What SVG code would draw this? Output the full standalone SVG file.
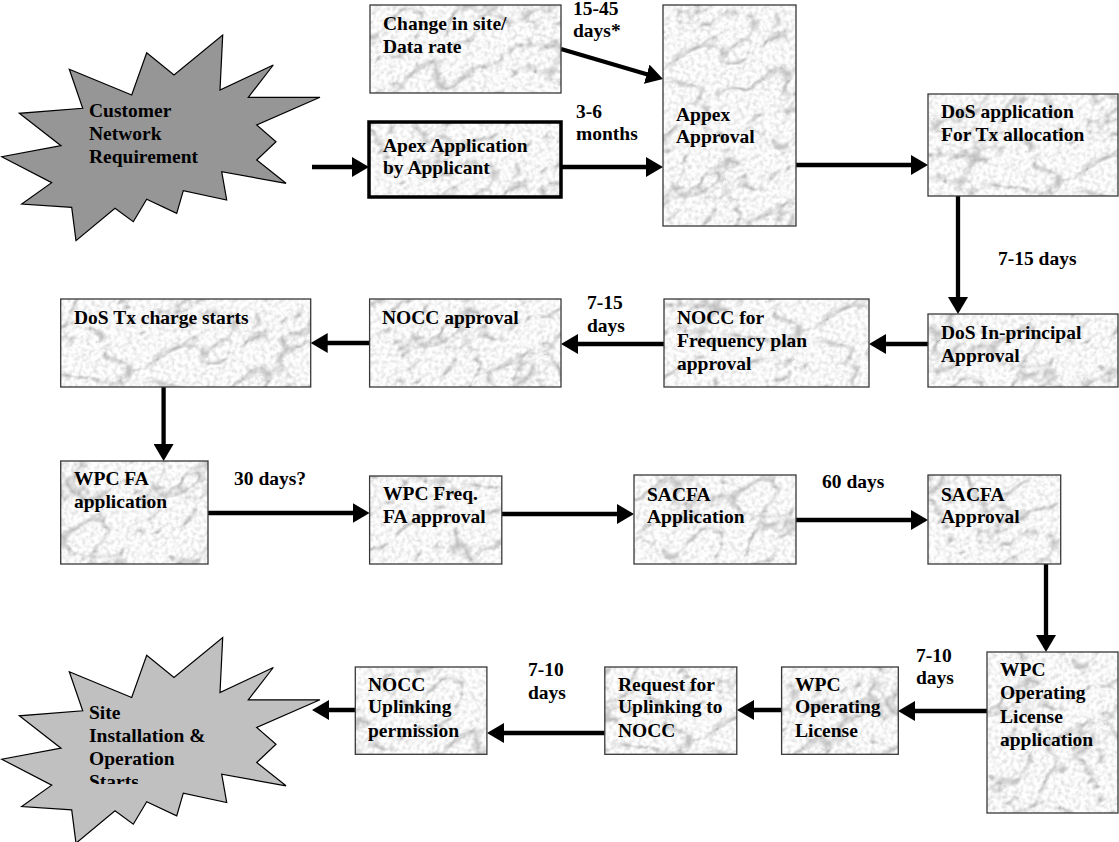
<svg xmlns="http://www.w3.org/2000/svg" width="1119" height="842" viewBox="0 0 1119 842">
<style>
.box{fill:url(#marble);stroke:#383838;stroke-width:1.3}
.thick{stroke:#000;stroke-width:3.5}
.t{font-family:"Liberation Serif","Times New Roman",serif;font-weight:bold;font-size:19.5px;fill:#000}
.conn{stroke:#000;stroke-width:4.3;fill:none;marker-end:url(#ah)}
.star{stroke:#000;stroke-width:1.2}
</style>
<defs>
<filter id="marbleF" x="0" y="0" width="1" height="1" color-interpolation-filters="sRGB">
<feTurbulence type="turbulence" baseFrequency="0.022 0.032" numOctaves="3" seed="5" stitchTiles="stitch" result="v"/>
<feColorMatrix in="v" type="matrix" values="1.2 0 0 0 0.74  1.2 0 0 0 0.74  1.2 0 0 0 0.74  0 0 0 0 1" result="veins"/>
<feTurbulence type="fractalNoise" baseFrequency="0.25" numOctaves="2" seed="2" stitchTiles="stitch" result="n"/>
<feColorMatrix in="n" type="matrix" values="0 0 0 0 0.55  0 0 0 0 0.55  0 0 0 0 0.55  0.7 0 0 0 -0.28" result="speck"/>
<feMerge><feMergeNode in="veins"/><feMergeNode in="speck"/></feMerge>
</filter>
<pattern id="marble" patternUnits="userSpaceOnUse" width="300" height="300" patternTransform="rotate(-30)">
<rect width="300" height="300" fill="#fff" filter="url(#marbleF)"/>
</pattern>
<marker id="ah" markerUnits="userSpaceOnUse" markerWidth="18" markerHeight="20" refX="8" refY="10" orient="auto">
<path d="M0,0 L17,10 L0,20 z" fill="#000"/>
</marker>
<polygon id="burst" points="69.3,69.3 131.7,95 146.7,52.7 174,75 222.7,35 220,90 273.3,65 248.3,97.3 320,97.3 256.7,125 276,141.7 256.7,160 286,183.3 221.7,171.7 226.7,200 183.3,190.7 176.7,213.3 146.7,199.3 133.3,221.7 115,208.3 76,240.7 71.7,207.3 21.7,204 51.7,182.7 1.7,156.7 61,145.7 19.3,113.3 82.7,108.3"/>
<clipPath id="clipStarts"><rect x="0" y="600" width="330" height="184"/></clipPath>
</defs>

<g id="connectors">
<path class="conn" d="M312,167 H360"/>
<path class="conn" d="M561,49 L654.4,76.5"/>
<path class="conn" d="M561,167 H654"/>
<path class="conn" d="M796,165 H919"/>
<path class="conn" d="M958,196 V305"/>
<path class="conn" d="M928,344 H878"/>
<path class="conn" d="M664,344 H570"/>
<path class="conn" d="M369.6,343 H319.7"/>
<path class="conn" d="M163.6,387 V452"/>
<path class="conn" d="M208,513 H360.6"/>
<path class="conn" d="M501.8,514 H625"/>
<path class="conn" d="M796,520 H919"/>
<path class="conn" d="M1046,564 V643"/>
<path class="conn" d="M987,711 H907"/>
<path class="conn" d="M781.6,710 H746"/>
<path class="conn" d="M604.8,733 H496"/>
<path class="conn" d="M355,710 H321"/>
</g>

<g id="labels">
<text class="t" x="573" y="15">15-45</text>
<text class="t" x="573" y="37">days*</text>
<text class="t" x="576" y="118">3-6</text>
<text class="t" x="576" y="140">months</text>
<text class="t" x="998" y="265">7-15 days</text>
<text class="t" x="587" y="309">7-15</text>
<text class="t" x="587" y="332">days</text>
<text class="t" x="234" y="485">30 days?</text>
<text class="t" x="822" y="488">60 days</text>
<text class="t" x="916" y="662">7-10</text>
<text class="t" x="916" y="684">days</text>
<text class="t" x="528" y="676">7-10</text>
<text class="t" x="528" y="699">days</text>
</g>

<g id="customer">
<use href="#burst" class="star" fill="#969696"/>
<text class="t" x="89" y="117">Customer</text>
<text class="t" x="89" y="139.5">Network</text>
<text class="t" x="89" y="162.5">Requirement</text>
</g>

<g id="site">
<use href="#burst" class="star" fill="#c0c0c0" transform="translate(0,602.5)"/>
<g clip-path="url(#clipStarts)">
<text class="t" x="89" y="719">Site</text>
<text class="t" x="89" y="742">Installation &amp;</text>
<text class="t" x="89" y="765">Operation</text>
<text class="t" x="89" y="788">Starts</text>
</g>
</g>

<g id="change">
<rect class="box" x="370" y="5" width="191" height="88"/>
<text class="t" x="383" y="30">Change in site/</text>
<text class="t" x="383" y="53">Data rate</text>
</g>

<g id="apex">
<rect class="box thick" x="369" y="122" width="192" height="75"/>
<text class="t" x="383" y="152">Apex Application</text>
<text class="t" x="383" y="174">by Applicant</text>
</g>

<g id="appex">
<rect class="box" x="663" y="5" width="133" height="221"/>
<text class="t" x="676" y="121">Appex</text>
<text class="t" x="676" y="143">Approval</text>
</g>

<g id="dosapp">
<rect class="box" x="928" y="94" width="190" height="102"/>
<text class="t" x="941" y="118">DoS application</text>
<text class="t" x="941" y="141">For Tx allocation</text>
</g>

<g id="dosinp">
<rect class="box" x="928" y="314" width="190" height="73"/>
<text class="t" x="941" y="339">DoS In-principal</text>
<text class="t" x="941" y="362">Approval</text>
</g>

<g id="noccfor">
<rect class="box" x="664" y="299" width="205" height="88"/>
<text class="t" x="677" y="324">NOCC for</text>
<text class="t" x="677" y="347">Frequency plan</text>
<text class="t" x="677" y="370">approval</text>
</g>

<g id="noccapp">
<rect class="box" x="369.6" y="299" width="191.4" height="88"/>
<text class="t" x="382" y="324">NOCC approval</text>
</g>

<g id="dostx">
<rect class="box" x="60.7" y="299" width="250" height="88"/>
<text class="t" x="74" y="324">DoS Tx charge starts</text>
</g>

<g id="wpcfa">
<rect class="box" x="60.7" y="461" width="147.3" height="103"/>
<text class="t" x="74" y="485">WPC FA</text>
<text class="t" x="74" y="508">application</text>
</g>

<g id="wpcfreq">
<rect class="box" x="369.6" y="476" width="132.2" height="88"/>
<text class="t" x="383" y="500">WPC Freq.</text>
<text class="t" x="383" y="523">FA approval</text>
</g>

<g id="sacfaapp">
<rect class="box" x="634" y="475" width="162" height="89"/>
<text class="t" x="647" y="501">SACFA</text>
<text class="t" x="647" y="523">Application</text>
</g>

<g id="sacfaappr">
<rect class="box" x="928" y="475" width="132.7" height="89"/>
<text class="t" x="941" y="501">SACFA</text>
<text class="t" x="941" y="523">Approval</text>
</g>

<g id="wpcola">
<rect class="box" x="987" y="652" width="131" height="161"/>
<text class="t" x="1000" y="676">WPC</text>
<text class="t" x="1000" y="699">Operating</text>
<text class="t" x="1000" y="723">License</text>
<text class="t" x="1000" y="746">application</text>
</g>

<g id="wpcol">
<rect class="box" x="781.6" y="667" width="116.7" height="87.3"/>
<text class="t" x="795" y="691">WPC</text>
<text class="t" x="795" y="713">Operating</text>
<text class="t" x="795" y="737">License</text>
</g>

<g id="request">
<rect class="box" x="604.8" y="667" width="132" height="87.3"/>
<text class="t" x="618" y="691">Request for</text>
<text class="t" x="618" y="713">Uplinking to</text>
<text class="t" x="618" y="737">NOCC</text>
</g>

<g id="nocclink">
<rect class="box" x="355.3" y="667" width="131.6" height="87.3"/>
<text class="t" x="368" y="691">NOCC</text>
<text class="t" x="368" y="713">Uplinking</text>
<text class="t" x="368" y="737">permission</text>
</g>
</svg>
